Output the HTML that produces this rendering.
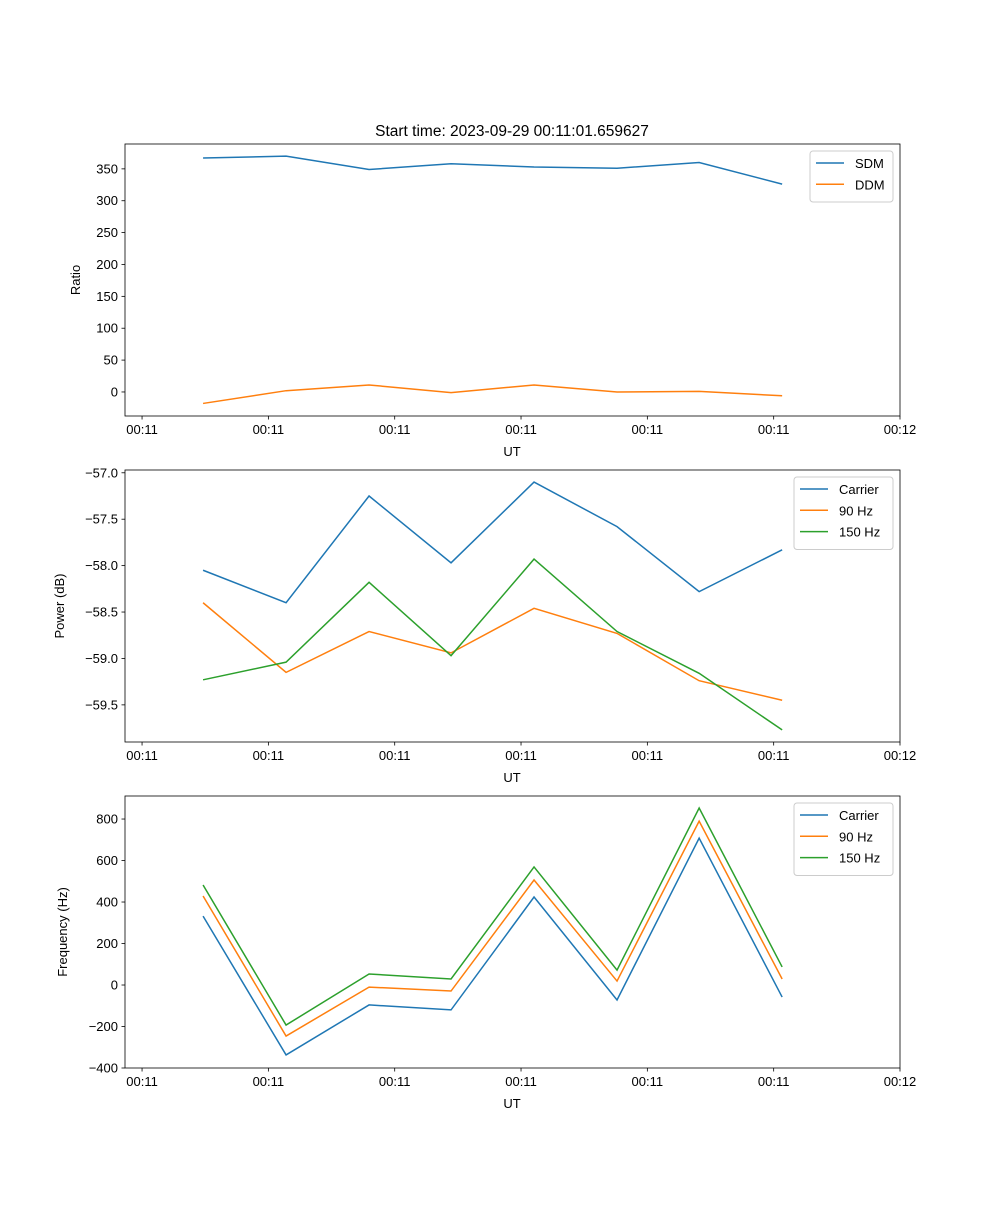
<!DOCTYPE html>
<html><head><meta charset="utf-8"><style>
body{margin:0;background:#fff}
svg{font-family:"Liberation Sans","DejaVu Sans",sans-serif;font-size:13px}
</style></head><body>
<svg id="c" width="1000" height="1200" viewBox="0 0 1000 1200"></svg>
<script>
const times=[0.483,1.140,1.797,2.446,3.103,3.760,4.410,5.067];
const xTickVals=[0,1,2,3,4,5,6];
const xTickLabels=["00:11","00:11","00:11","00:11","00:11","00:11","00:12"];
const sdm=[367,370,349,358,353,351,360,326];
const ddm=[-18,2,11,-1,11,0,1,-6];
const pCarrier=[-58.05,-58.40,-57.25,-57.97,-57.10,-57.58,-58.28,-57.83];
const p90=[-58.40,-59.15,-58.71,-58.94,-58.46,-58.73,-59.24,-59.45];
const p150=[-59.23,-59.04,-58.18,-58.97,-57.93,-58.71,-59.16,-59.77];
const fCarrier=[332,-337,-96,-120,424,-72,708,-58];
const f90=[429,-246,-10,-29,506,19,790,29];
const f150=[482,-193,53,29,569,72,853,87];
const ticks1=[0,50,100,150,200,250,300,350];
const ticks2=[-59.5,-59.0,-58.5,-58.0,-57.5,-57.0];
const ticks3=[-400,-200,0,200,400,600,800];
const C=["#1f77b4","#ff7f0e","#2ca02c"];
const svg=document.getElementById('c');
const NS="http://www.w3.org/2000/svg";
function mk(t,a,p){const e=document.createElementNS(NS,t);for(const k in a)e.setAttribute(k,a[k]);(p||svg).appendChild(e);return e;}
const X0=125,X1=900,T0=-0.135,T1=6;
const xs=t=>X0+(t-T0)/(T1-T0)*(X1-X0);
function panel(name,top,bot,ymin,ymax,yt,ytl,ylabel,series,names,legend){
  const g=mk('g',{});
  
  
  const ys=v=>bot-(v-ymin)/(ymax-ymin)*(bot-top);
  series.forEach((s,i)=>{
    const pl=mk('polyline',{points:s.map((v,j)=>xs(times[j])+','+ys(v)).join(' '),fill:'none',stroke:C[i],'stroke-width':1.5},g);
    
    
  });
  mk('rect',{x:X0,y:top,width:X1-X0,height:bot-top,fill:'none',stroke:'#000','stroke-width':0.8},g);
  xTickVals.forEach((t,i)=>{const x=xs(t);mk('line',{x1:x,x2:x,y1:bot,y2:bot+3.5,stroke:'#000','stroke-width':0.8},g);
    const tx=mk('text',{x:x,y:bot+18,'text-anchor':'middle'},g);tx.textContent=xTickLabels[i];
    });
  yt.forEach((v,i)=>{const y=ys(v);mk('line',{x1:X0-3.5,x2:X0,y1:y,y2:y,stroke:'#000','stroke-width':0.8},g);
    const tx=mk('text',{x:X0-7,y:y+4.5,'text-anchor':'end'},g);tx.textContent=ytl[i];
    });
  const xl=mk('text',{x:512,y:bot+40,'text-anchor':'middle'},g);xl.textContent='UT';
  
  const yl=mk('text',{transform:`translate(${legend.yx},${(top+bot)/2}) rotate(-90)`,'text-anchor':'middle'},g);yl.textContent=ylabel;
  
  const lg=mk('g',{},g);
  
  mk('rect',{x:legend.x,y:top+7,width:legend.w,height:8+names.length*21.5,fill:'#fff',stroke:'#ccc',rx:3},lg);
  names.forEach((n,i)=>{const y=top+19+i*21.3;
    mk('line',{x1:legend.x+6,x2:legend.x+34,y1:y,y2:y,stroke:C[i],'stroke-width':1.5},lg);
    const tx=mk('text',{x:legend.x+45,y:y+5},lg);tx.textContent=n;
    });
}
const t=mk('text',{x:512,y:136,'text-anchor':'middle','font-size':'15.5'});t.textContent='Start time: 2023-09-29 00:11:01.659627';

panel('ratio-panel',144,416,-37.7,389,ticks1,ticks1.map(String),'Ratio',[sdm,ddm],['SDM','DDM'],{x:810,w:83,yx:80});
panel('power-panel',470,742,-59.90,-56.97,ticks2,ticks2.map(v=>(v<0?'\u2212':'')+Math.abs(v).toFixed(1)),'Power (dB)',[pCarrier,p90,p150],['Carrier','90 Hz','150 Hz'],{x:794,w:99,yx:64});
panel('frequency-panel',796,1068,-400,911,ticks3,ticks3.map(v=>(v<0?'\u2212':'')+Math.abs(v)),'Frequency (Hz)',[fCarrier,f90,f150],['Carrier','90 Hz','150 Hz'],{x:794,w:99,yx:67});
</script>
</body></html>
